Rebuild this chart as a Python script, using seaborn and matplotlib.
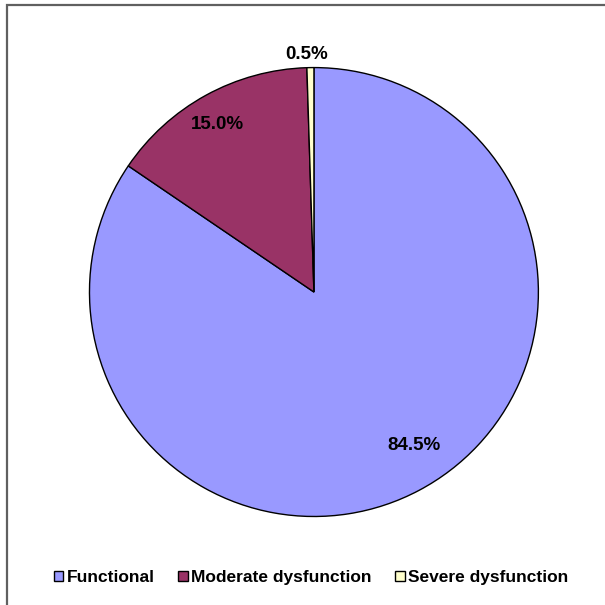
import numpy as np
import matplotlib
matplotlib.use("Agg")
import matplotlib.pyplot as plt
import matplotlib.patches as mpatches
import seaborn as sns

# Distribution of functional status
categories = ["Functional", "Moderate dysfunction", "Severe dysfunction"]
shares = [84.5, 15.0, 0.5]
colors = ["#9999FF", "#993366", "#FFFFCC"]

# label placement: radial distance (fraction of radius) and angular nudge (deg)
label_radius = [0.815, 0.86, 1.06]
label_nudge = [5.3, 1.2, 0.8]

sns.set_theme(style="white")
plt.rcParams["font.family"] = ["Liberation Sans", "DejaVu Sans"]
plt.rcParams["text.color"] = "black"

fig = plt.figure(figsize=(6.05, 6.05), dpi=100)
fig.patch.set_facecolor("white")

ax = fig.add_axes([0.1479, 0.1463, 0.742, 0.742])
wedges, _ = ax.pie(
    shares,
    colors=colors,
    startangle=90,
    counterclock=False,
    radius=1.0,
    wedgeprops=dict(edgecolor="black", linewidth=1.0),
)
ax.set_xlim(-1.0, 1.0)
ax.set_ylim(-1.0, 1.0)
ax.set_aspect("equal")
ax.axis("off")

for w, val, rr, dn in zip(wedges, shares, label_radius, label_nudge):
    mid = np.deg2rad((w.theta1 + w.theta2) / 2 + dn)
    ax.text(rr * np.cos(mid), rr * np.sin(mid), f"{val:.1f}%",
            ha="center", va="center", fontsize=13.5, fontweight="bold",
            color="black")

handles = [mpatches.Patch(facecolor=c, edgecolor="black", linewidth=1.0)
           for c in colors]
leg = fig.legend(handles, categories, loc="center", ncol=3,
                 bbox_to_anchor=(0.514, 0.045), frameon=False,
                 prop=dict(size=12.5, weight="bold"), labelcolor="black",
                 handlelength=0.55, handleheight=0.55,
                 handletextpad=0.2, columnspacing=1.35)

# outer frame around the chart area
frame = mpatches.Rectangle((6.5 / 605, -0.05), 1.2, 1.05 - 5.5 / 605,
                           transform=fig.transFigure, fill=False,
                           edgecolor="#606060", linewidth=1.6)
fig.patches.append(frame)

fig.savefig("out.png", dpi=100, facecolor="white")
